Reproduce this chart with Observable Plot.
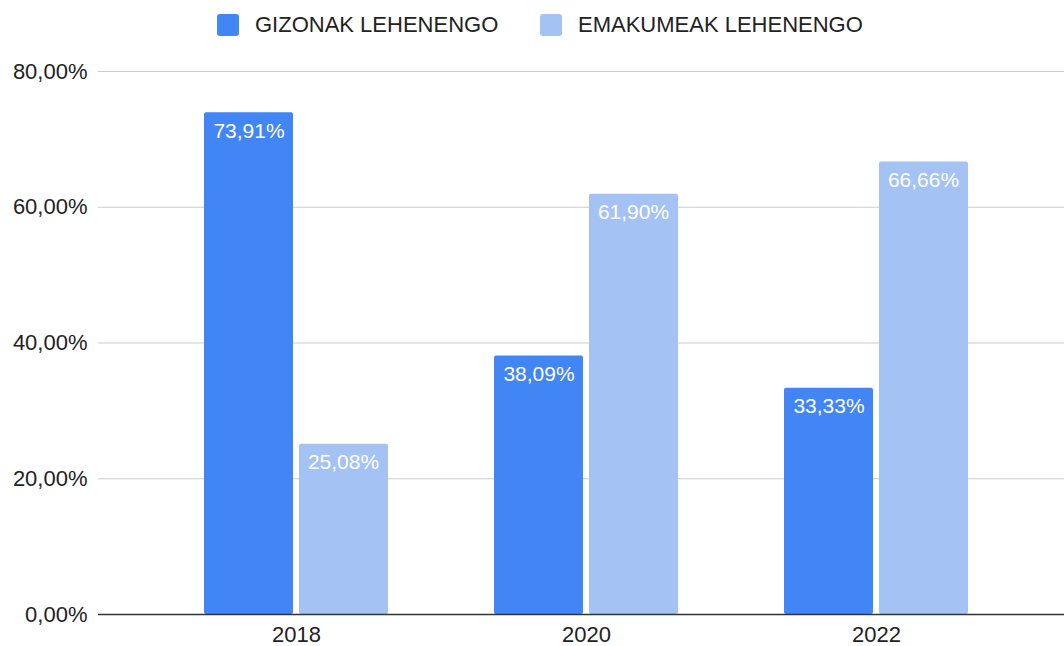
<!DOCTYPE html>
<html>
<head>
<meta charset="utf-8">
<script src="https://cdn.jsdelivr.net/npm/d3@7"></script>
<script src="https://cdn.jsdelivr.net/npm/@observablehq/plot@0.6"></script>
<style>
  html, body { margin: 0; padding: 0; background: #fff; }
  body { width: 1064px; height: 646px; overflow: hidden; font-family: "Liberation Sans", Arial, sans-serif; }
  #legend { position: relative; height: 50px; }
  .item { position: absolute; top: 14px; display: flex; align-items: center; height: 22px; }
  .sw { width: 22px; height: 22px; border-radius: 3px; margin-right: 16px; }
  .lab { font-size: 22px; color: #222; line-height: 22px; white-space: nowrap; }
  #chart svg { display: block; }
</style>
</head>
<body>
<div id="legend"></div>
<div id="chart"></div>
<script>
const years = ["2018", "2020", "2022"];
const gizonak = [73.91, 38.09, 33.33];
const emakumeak = [25.08, 61.90, 66.66];
const seriesNames = ["GIZONAK LEHENENGO", "EMAKUMEAK LEHENENGO"];
const seriesColors = ["#4285f4", "#a4c2f4"];
const yTicks = [0, 20, 40, 60, 80];

const fmt = v => v.toFixed(2).replace(".", ",") + "%";

const dataG = years.map((year, i) => ({year, value: gizonak[i]}));
const dataE = years.map((year, i) => ({year, value: emakumeak[i]}));

// legend
const legend = document.getElementById("legend");
const legendLeft = [217, 540];
seriesNames.forEach((name, i) => {
  const item = document.createElement("div");
  item.className = "item";
  item.style.left = legendLeft[i] + "px";
  const sw = document.createElement("div");
  sw.className = "sw";
  sw.style.background = seriesColors[i];
  const lab = document.createElement("div");
  lab.className = "lab";
  lab.textContent = name;
  item.appendChild(sw);
  item.appendChild(lab);
  legend.appendChild(item);
});

const chart = Plot.plot({
  width: 1064,
  height: 596,
  marginTop: 21,
  marginBottom: 32,
  marginLeft: 98,
  marginRight: 0,
  style: {fontFamily: "'Liberation Sans', Arial, sans-serif", fontSize: "22px", color: "#222", background: "#fff"},
  x: {
    type: "band",
    domain: years,
    paddingInner: 0.3643,
    paddingOuter: 0.342,
    align: 0.528,
    tickSize: 0,
    tickPadding: 12,
    label: null
  },
  y: {
    domain: [0, 80],
    ticks: yTicks,
    tickSize: 0,
    tickPadding: 11,
    tickFormat: d => d.toFixed(2).replace(".", ",") + "%",
    label: null
  },
  marks: [
    Plot.ruleY(yTicks.filter(d => d > 0), {stroke: "#cccccc", strokeWidth: 1.2}),
    Plot.barY(dataG, {x: "year", y: "value", fill: seriesColors[0], insetRight: 95, rx: 2}),
    Plot.barY(dataE, {x: "year", y: "value", fill: seriesColors[1], insetLeft: 95, rx: 2}),
    Plot.ruleY([0], {stroke: "#333", strokeWidth: 1.5}),
    Plot.text(dataG, {x: "year", y: "value", text: d => fmt(d.value), dx: -47.5, dy: 18, fill: "white", fontSize: 21}),
    Plot.text(dataE, {x: "year", y: "value", text: d => fmt(d.value), dx: 47, dy: 18, fill: "white", fontSize: 21})
  ]
});
document.getElementById("chart").appendChild(chart);
</script>
</body>
</html>
